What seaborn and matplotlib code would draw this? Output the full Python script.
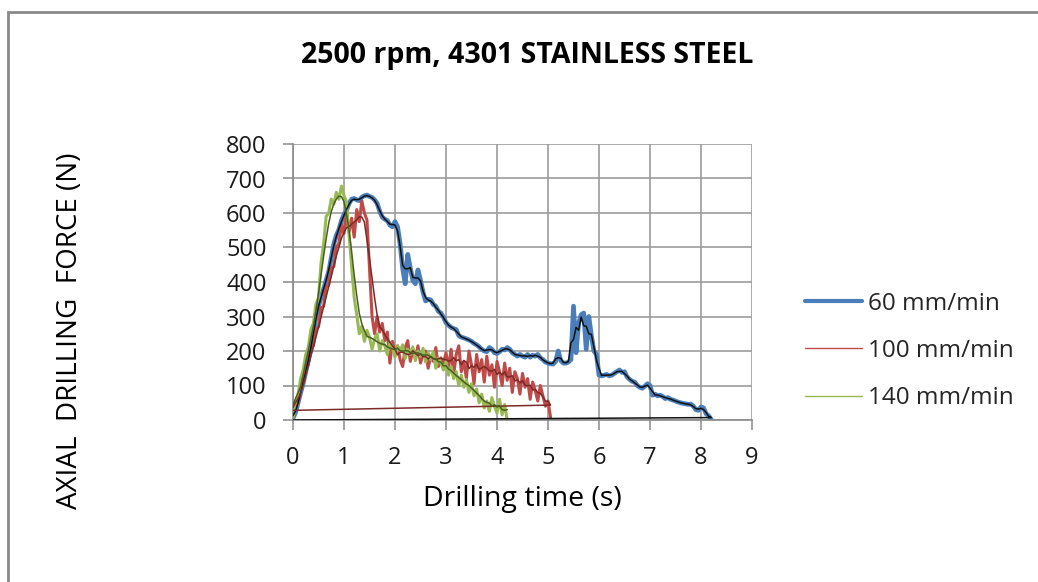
import numpy as np
import pandas as pd
import matplotlib
matplotlib.use("Agg")
import matplotlib.pyplot as plt
from matplotlib.patches import Rectangle
import seaborn as sns

# Force logger sampling interval (s)
STEP = 0.05

# Axial drilling force (N) at 2500 rpm, one sample every STEP seconds
force_60 = [
    5, 22, 50, 80, 106, 140, 172, 205, 250, 300,
    330, 355, 380, 405, 430, 470, 510, 535, 552, 578,
    595, 608, 628, 640, 642, 638, 636, 646, 650, 652,
    648, 645, 638, 628, 605, 588, 582, 578, 565, 560,
    575, 560, 510, 440, 395, 480, 440, 405, 395, 435,
    405, 370, 345, 350, 348, 335, 330, 315, 310, 298,
    282, 275, 268, 265, 262, 245, 240, 238, 235, 232,
    228, 222, 218, 212, 205, 200, 198, 210, 205, 195,
    193, 198, 205, 203, 210, 205, 195, 190, 185, 190,
    185, 182, 190, 182, 188, 185, 190, 180, 175, 168,
    165, 163, 162, 170, 200, 172, 165, 165, 168, 175,
    330, 195, 280, 305, 310, 205, 300, 245, 200, 190,
    130, 128, 130, 132, 128, 130, 135, 140, 145, 138,
    140, 125, 118, 112, 110, 100, 95, 92, 98, 105,
    100, 72, 75, 70, 72, 68, 62, 65, 60, 58,
    55, 52, 50, 48, 47, 45, 46, 40, 30, 28,
    38, 35, 18, 12, 2,
]

force_100 = [
    18, 42, 48, 95, 110, 155, 160, 210, 215, 262,
    270, 325, 330, 385, 392, 440, 445, 500, 512, 565,
    540, 598, 545, 585, 530, 610, 575, 635, 600, 580,
    440, 300, 250, 300, 255, 280, 230, 255, 165, 228,
    195, 215, 175, 155, 210, 230, 170, 200, 180, 215,
    165, 190, 200, 150, 185, 170, 210, 155, 180, 165,
    195, 150, 205, 130, 190, 215, 140, 170, 120, 200,
    160, 105, 190, 140, 175, 110, 185, 130, 160, 95,
    170, 140, 100, 165, 115, 150, 80, 140, 120, 75,
    135, 95, 120, 60, 110, 85, 55, 100, 70, 40,
    55, 8,
]

force_140 = [
    5, 50, 75, 120, 145, 190, 210, 262, 280, 335,
    355, 455, 510, 590, 600, 640, 625, 660, 640, 678,
    650, 632, 535, 445, 355, 305, 250, 272, 228, 260,
    240, 205, 235, 250, 200, 230, 215, 190, 225, 210,
    182, 215, 200, 218, 178, 205, 190, 212, 172, 200,
    185, 208, 168, 195, 175, 198, 150, 180, 165, 145,
    170, 130, 155, 120, 140, 100, 130, 95, 118, 80,
    105, 70, 90, 50, 75, 35, 55, 25, 65, 40,
    20, 60, 15, 45, 0,
]

series_labels = ["60 mm/min", "100 mm/min", "140 mm/min"]
series_colors = ["#4A7EBB", "#BE4B48", "#98B954"]
series_widths = [3.4, 2.2, 2.2]
legend_widths = [3.0, 1.0, 1.0]
trend_colors = ["#101010", "#7B2A28", "#4A5E22"]
trend_windows = [3, 6, 6]
# Points the moving-average trend lines are closed back to
trend_close = [(0.0, 0.0), (0.0, 28.0), None]

x_ticks = list(range(0, 10))
y_ticks = list(range(0, 900, 100))

title_text = "2500 rpm, 4301 STAINLESS STEEL"
x_title = "Drilling time (s)"
y_title = "AXIAL  DRILLING  FORCE (N)"

# ---------------------------------------------------------------- data frame
frames = []
for label, values in zip(series_labels, [force_60, force_100, force_140]):
    t = np.round(np.arange(len(values)) * STEP, 3)
    frames.append(pd.DataFrame({"time": t, "force": values, "feed": label}))
raw = pd.concat(frames, ignore_index=True)

# moving-average trend lines
trend_frames = []
for label, win, close in zip(series_labels, trend_windows, trend_close):
    part = raw[raw["feed"] == label]
    avg = part["force"].rolling(win, center=True, min_periods=1).mean()
    tr = pd.DataFrame({"time": part["time"].values, "force": avg.values})
    if close is not None:
        tr = pd.concat([tr, pd.DataFrame({"time": [close[0]], "force": [close[1]]})],
                       ignore_index=True)
    tr["feed"] = label
    trend_frames.append(tr)

# ---------------------------------------------------------------- styling
sns.set_theme(style="white")
plt.rcParams["font.family"] = ["Open Sans", "DejaVu Sans"]

W, H = 1038, 582
fig = plt.figure(figsize=(W / 100, H / 100), dpi=100)
fig.patch.set_facecolor("white")
ax = fig.add_axes([293 / W, (H - 420) / H, 459 / W, 276 / H])

for label, color, lw in zip(series_labels, series_colors, series_widths):
    sns.lineplot(data=raw[raw["feed"] == label], x="time", y="force",
                 color=color, lw=lw, estimator=None, sort=False,
                 label=label, ax=ax, zorder=2)

for tr, color in zip(trend_frames, trend_colors):
    sns.lineplot(data=tr, x="time", y="force", color=color, lw=1.1,
                 estimator=None, sort=False, legend=False, ax=ax, zorder=3)

ax.set_xlim(0, 9)
ax.set_ylim(0, 800)
ax.set_xticks(x_ticks)
ax.set_yticks(y_ticks)
ax.grid(True, color="#9C9C9C", lw=1.2)
ax.set_axisbelow(True)
for side in ("top", "right"):
    ax.spines[side].set_visible(False)
for side in ("left", "bottom"):
    ax.spines[side].set_color("#8A8A8A")
    ax.spines[side].set_linewidth(1.2)
ax.tick_params(axis="both", bottom=True, left=True, direction="out",
               length=7, width=1.1, color="#8A8A8A", labelsize=17,
               labelcolor="#1A1A1A", pad=12)
ax.set_xlabel("")
ax.set_ylabel("")
ax.get_legend().remove()

fig.text(527 / W, 1 - 55 / H, title_text, ha="center", va="center",
         fontsize=20.5, fontweight="bold", color="#000000")
fig.text(522 / W, 1 - 499 / H, x_title, ha="center", va="center",
         fontsize=20.5, color="#000000")
fig.text(70 / W, 1 - 331 / H, y_title, ha="center", va="center",
         rotation=90, fontsize=20, color="#000000")

handles, labels = ax.get_legend_handles_labels()
leg = fig.legend(handles, labels, loc="center left",
                 bbox_to_anchor=(795 / W, 1 - 351 / H), frameon=False,
                 fontsize=17.5, handlelength=2.35, handletextpad=0.25,
                 labelspacing=0.95, borderaxespad=0)
for line, lw in zip(leg.get_lines(), legend_widths):
    line.set_linewidth(lw)

# outer chart border
fig.add_artist(Rectangle((8 / W, -0.05), 1.2, 1.05 - 12 / H,
                         transform=fig.transFigure, fill=False,
                         edgecolor="#8A8A8A", lw=2))

fig.savefig("out.png", dpi=100, facecolor="white")
